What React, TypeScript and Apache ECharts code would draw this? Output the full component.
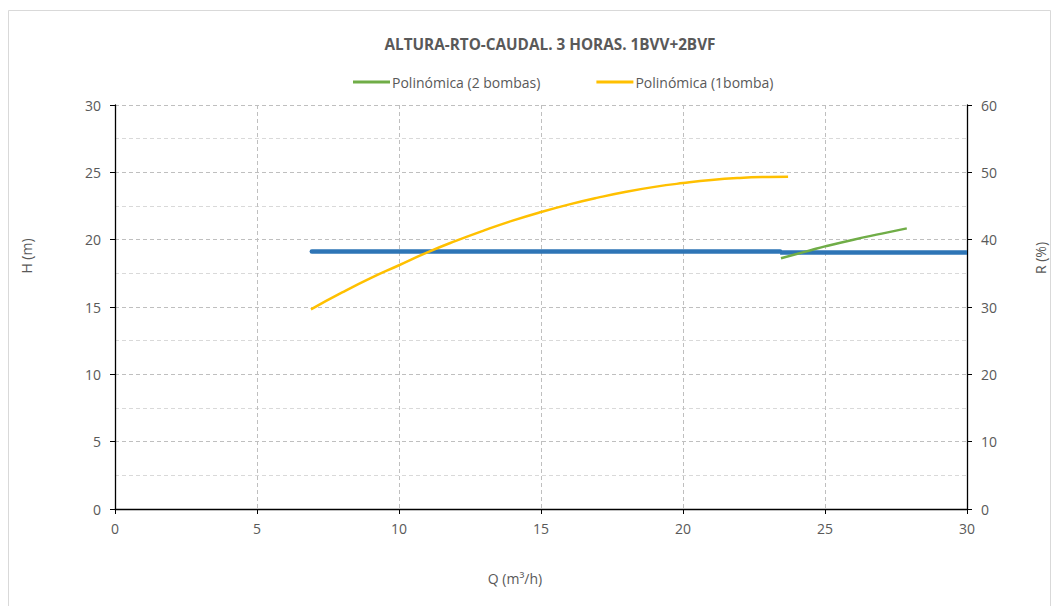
import React, { useEffect, useRef } from "react";
import * as echarts from "echarts";

const titleText = "ALTURA-RTO-CAUDAL. 3 HORAS. 1BVV+2BVF";
const xTicks = { min: 0, max: 30, interval: 5 };
const hAxis = { min: 0, max: 30, interval: 5 };
const rAxis = { min: 0, max: 60, interval: 10 };
const xName = "Q (m³/h)";
const hName = "H (m)";
const rName = "R (%)";

// Polinómica (1bomba): [Q, H]
const oneQ = [6.9, 8, 9, 10, 11, 12, 13, 14, 15, 16, 17, 18, 19, 20, 21, 22, 23, 23.7];
const oneH = [14.83, 16.08, 17.14, 18.1, 19.06, 19.91, 20.69, 21.41, 22.05, 22.62, 23.12, 23.56, 23.92, 24.2, 24.43, 24.58, 24.66, 24.68];

// Polinómica (2 bombas)
const twoQ = [23.45, 24, 24.5, 25, 26, 27, 27.88];
const twoH = [18.62, 18.93, 19.22, 19.5, 20.0, 20.45, 20.84];

// Blue horizontal line (two pieces)
const blueAQ = [6.93, 23.42];
const blueAH = [19.12, 19.12];
const blueBQ = [23.42, 30];
const blueBH = [19.04, 19.04];

const zip = (a: number[], b: number[]) => a.map((v, i) => [v, b[i]]);

const FONT = "'Open Sans', sans-serif";
const GRAY = "#595959";

export default function App() {
  const ref = useRef<HTMLDivElement>(null);
  useEffect(() => {
    const chart = echarts.init(ref.current!, null, { renderer: "svg" });
    chart.setOption({
      animation: false,
      backgroundColor: "#fff",
      textStyle: { fontFamily: FONT },
      title: {
        text: titleText,
        left: 545,
        top: 31,
        textAlign: "center",
        textStyle: { fontFamily: FONT, fontSize: 15.3, fontWeight: "bold", color: GRAY },
      },
      legend: {
        top: 70,
        left: 348,
        itemGap: 56,
        itemWidth: 37,
        itemHeight: 3,
        icon: "rect",
        textStyle: { fontFamily: FONT, fontSize: 14, color: GRAY, padding: [0, 0, 0, -3] },
        data: ["Polinómica (2 bombas)", "Polinómica (1bomba)"],
      },
      graphic: [
        {
          type: "rect",
          shape: { x: 8.5, y: 10.5, width: 1042, height: 600 },
          style: { fill: "none", stroke: "#d9d9d9", lineWidth: 1 },
          silent: true,
        },
        {
          type: "text",
          x: 515,
          y: 578,
          style: { text: xName, fontFamily: FONT, fontSize: 14, fill: GRAY, align: "center", verticalAlign: "middle" },
          silent: true,
        },
        {
          type: "text",
          x: 26,
          y: 256,
          rotation: Math.PI / 2,
          style: { text: hName, fontFamily: FONT, fontSize: 14, fill: GRAY, align: "center", verticalAlign: "middle" },
          silent: true,
        },
        {
          type: "text",
          x: 1040,
          y: 258,
          rotation: Math.PI / 2,
          style: { text: rName, fontFamily: FONT, fontSize: 14, fill: GRAY, align: "center", verticalAlign: "middle" },
          silent: true,
        },
      ],
      grid: { left: 115, right: 91, top: 105, bottom: 97 },
      xAxis: {
        type: "value",
        ...xTicks,
        axisLine: { show: true, onZero: false, lineStyle: { color: "#000", width: 1.3 } },
        axisTick: { show: true, length: 5, lineStyle: { color: "#000" } },
        axisLabel: { fontFamily: FONT, fontSize: 14, color: GRAY, margin: 12 },
        splitLine: {
          show: true,
          lineStyle: { color: "#bfbfbf", type: [4, 3] },
        },
      },
      yAxis: [
        {
          type: "value",
          ...hAxis,
          axisLine: { show: true, lineStyle: { color: "#000", width: 1.3 } },
          axisTick: { show: true, length: 5, lineStyle: { color: "#000" } },
          axisLabel: { fontFamily: FONT, fontSize: 14, color: GRAY, margin: 14 },
          splitLine: { show: true, lineStyle: { color: "#bfbfbf", type: [4, 3] } },
          minorTick: { show: false, splitNumber: 2 },
          minorSplitLine: { show: true, lineStyle: { color: "#d9d9d9", type: [4, 3] } },
        },
        {
          type: "value",
          ...rAxis,
          position: "right",
          axisLine: { show: true, lineStyle: { color: "#000", width: 1.3 } },
          axisTick: { show: true, length: 5, lineStyle: { color: "#000" } },
          axisLabel: { fontFamily: FONT, fontSize: 14, color: GRAY, margin: 14 },
          splitLine: { show: false },
        },
      ],
      series: [
        {
          name: "Blue A",
          type: "line",
          data: zip(blueAQ, blueAH),
          showSymbol: false,
          symbol: "none",
          lineStyle: { color: "#2E75B6", width: 4.5, cap: "round" },
          itemStyle: { color: "#2E75B6" },
          z: 2,
        },
        {
          name: "Blue B",
          type: "line",
          data: zip(blueBQ, blueBH),
          showSymbol: false,
          symbol: "none",
          lineStyle: { color: "#2E75B6", width: 4.5 },
          itemStyle: { color: "#2E75B6" },
          z: 2,
        },
        {
          name: "Polinómica (2 bombas)",
          type: "line",
          data: zip(twoQ, twoH),
          smooth: true,
          showSymbol: false,
          symbol: "none",
          lineStyle: { color: "#70AD47", width: 2.5 },
          itemStyle: { color: "#70AD47" },
          z: 3,
        },
        {
          name: "Polinómica (1bomba)",
          type: "line",
          data: zip(oneQ, oneH),
          smooth: true,
          showSymbol: false,
          symbol: "none",
          lineStyle: { color: "#FFC000", width: 2.5 },
          itemStyle: { color: "#FFC000" },
          z: 3,
        },
      ],
    });
    return () => chart.dispose();
  }, []);
  return (
    <div style={{ position: "fixed", left: 0, top: 0, width: 1058, height: 606, background: "#fff" }}>
      <div ref={ref} style={{ width: 1058, height: 606 }} />
    </div>
  );
}
